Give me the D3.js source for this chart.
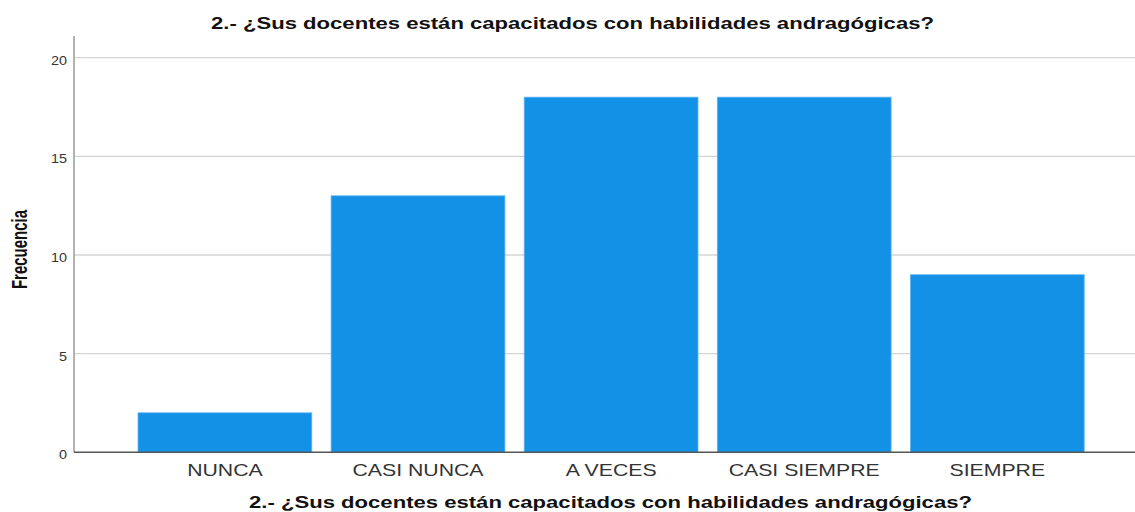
<!DOCTYPE html>
<html>
<head>
<meta charset="utf-8">
<script src="https://cdn.jsdelivr.net/npm/d3@7"></script>
<style>
  html, body { margin: 0; padding: 0; background: #fff; }
  svg { display: block; }
</style>
</head>
<body>
<svg id="chart"></svg>
<script>
// data
var categories = ["NUNCA", "CASI NUNCA", "A VECES", "CASI SIEMPRE", "SIEMPRE"];
var frecuencia = [2, 13, 18, 18, 9];
var yTicks = [0, 5, 10, 15, 20];
var titulo = "2.- ¿Sus docentes están capacitados con habilidades andragógicas?";
var yLabel = "Frecuencia";

var w = 1135, h = 512;
var axisLeft = 74, axisRight = 1135, axisTop = 36, axisBottom = 452.3;

var svg = d3.select('#chart').attr('width', w).attr('height', h);

var x = d3.scaleBand()
	.domain(categories)
	.range([128.35, 1093.85])
	.paddingInner(0.1)
	.paddingOuter(0.05);

var y = d3.scaleLinear()
	.domain([0, 21.1])
	.range([axisBottom, axisTop]);

// the source picture is stretched sideways, so the text is too
function stretched(px, py, k) {
	return 'translate(' + px + ',' + py + ') scale(' + k + ',1)';
}

// gridlines
svg.append('g')
	.selectAll('line')
	.data(yTicks.filter(function(d) { return d > 0; }))
	.join('line')
	.attr('x1', axisLeft)
	.attr('x2', axisRight)
	.attr('y1', function(d) { return y(d); })
	.attr('y2', function(d) { return y(d); })
	.attr('stroke', '#d4d4d4')
	.attr('stroke-width', 1.3);

// bars
svg.append('g')
	.selectAll('rect')
	.data(frecuencia)
	.join('rect')
	.attr('x', function(d, i) { return x(categories[i]); })
	.attr('width', x.bandwidth())
	.attr('y', function(d) { return y(d); })
	.attr('height', function(d) { return y(0) - y(d); })
	.attr('fill', '#1391e7')
	.attr('stroke', '#5fb4ee')
	.attr('stroke-width', 0.8);

// y axis line
svg.append('line')
	.attr('x1', axisLeft).attr('x2', axisLeft)
	.attr('y1', axisTop).attr('y2', axisBottom)
	.attr('stroke', '#9a9a9a')
	.attr('stroke-width', 1.5);

// x axis line
svg.append('line')
	.attr('x1', axisLeft).attr('x2', axisRight)
	.attr('y1', axisBottom).attr('y2', axisBottom)
	.attr('stroke', '#555')
	.attr('stroke-width', 1.5);

// y tick labels
svg.append('g')
	.selectAll('text')
	.data(yTicks)
	.join('text')
	.text(function(d) { return d; })
	.attr('transform', function(d) { return stretched(67, y(d) + 7, 1.15); })
	.attr('text-anchor', 'end')
	.attr('font-family', 'Liberation Sans, Arial, sans-serif')
	.attr('font-size', '12.5px')
	.attr('fill', '#333');

// category labels
svg.append('g')
	.selectAll('text')
	.data(categories)
	.join('text')
	.text(function(d) { return d; })
	.attr('transform', function(d) { return stretched(x(d) + x.bandwidth() / 2, 476, 1.25); })
	.attr('text-anchor', 'middle')
	.attr('font-family', 'Liberation Sans, Arial, sans-serif')
	.attr('font-size', '17px')
	.attr('fill', '#333');

// titles
svg.append('text')
	.text(titulo)
	.attr('transform', stretched(572.5, 29, 1.3))
	.attr('text-anchor', 'middle')
	.attr('font-family', 'Liberation Sans, Arial, sans-serif')
	.attr('font-weight', 'bold')
	.attr('font-size', '17px')
	.attr('fill', '#111');

svg.append('text')
	.text(titulo)
	.attr('transform', stretched(610.5, 508, 1.3))
	.attr('text-anchor', 'middle')
	.attr('font-family', 'Liberation Sans, Arial, sans-serif')
	.attr('font-weight', 'bold')
	.attr('font-size', '17px')
	.attr('fill', '#111');

svg.append('text')
	.text(yLabel)
	.attr('transform', stretched(27, 249.5, 1.45) + ' rotate(-90)')
	.attr('text-anchor', 'middle')
	.attr('font-family', 'Liberation Sans, Arial, sans-serif')
	.attr('font-weight', 'bold')
	.attr('font-size', '15px')
	.attr('fill', '#111');
</script>
</body>
</html>
